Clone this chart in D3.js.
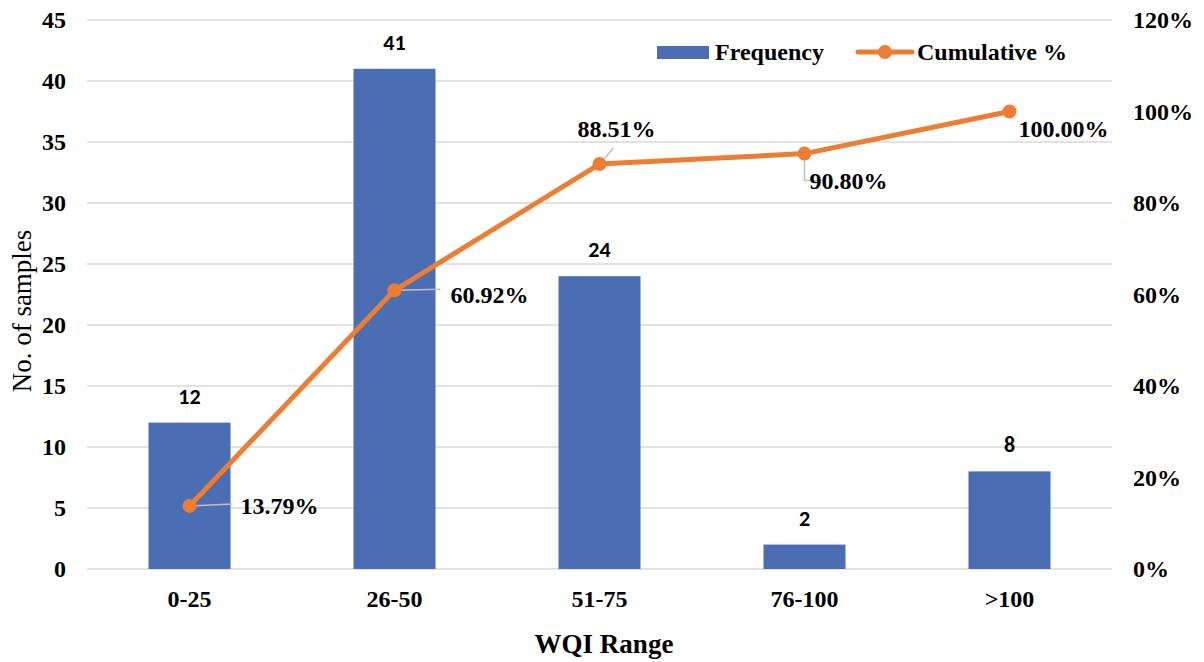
<!DOCTYPE html>
<html>
<head>
<meta charset="utf-8">
<script src="https://cdn.jsdelivr.net/npm/d3@7/dist/d3.min.js"></script>
<style>
  html, body { margin: 0; padding: 0; background: #fff; }
  svg { display: block; }
  .serif { font-family: "Liberation Serif", "Times New Roman", serif; }
  .sans { font-family: Carlito, Lato, "Liberation Sans", sans-serif; }
</style>
</head>
<body>
<svg id="chart" width="1204" height="662"></svg>
<script>
// WQI range distribution: sample counts and cumulative share
const categories = ["0-25", "26-50", "51-75", "76-100", ">100"];
const frequency = [12, 41, 24, 2, 8];
const cumulative = [13.79, 60.92, 88.51, 90.80, 100.00];
const leftTicks = [0, 5, 10, 15, 20, 25, 30, 35, 40, 45];
const rightTicks = [0, 20, 40, 60, 80, 100, 120];

const W = 1204, H = 662;
const margin = { left: 87, right: 92, top: 20, bottom: 93 };
const plotL = margin.left, plotR = W - margin.right;
const plotT = margin.top, plotB = H - margin.bottom;

const barColor = "#4A6DB3";
const lineColor = "#ED7D31";
const gridColor = "#D9D9D9";
const fs = 24;

const svg = d3.select("#chart");

const x = d3.scaleBand().domain(categories).range([plotL, plotR]).padding(0);
const yL = d3.scaleLinear().domain([0, 45]).range([plotB, plotT]);
const yR = d3.scaleLinear().domain([0, 120]).range([plotB, plotT]);

const barW = x.bandwidth() * 0.4;
const cx = d => x(d) + x.bandwidth() / 2;

function styleTicks(g) {
  g.select(".domain").remove();
  g.attr("font-family", null);
  g.selectAll("text").attr("class", "serif")
    .style("font-weight", "bold").style("font-size", fs + "px").attr("fill", "#000");
}

// horizontal gridlines
svg.append("g").selectAll("line").data(leftTicks).join("line")
  .attr("x1", plotL).attr("x2", plotR)
  .attr("y1", d => yL(d)).attr("y2", d => yL(d))
  .attr("stroke", gridColor).attr("stroke-width", 1.5);

// left axis labels
svg.append("g").attr("transform", `translate(${plotL},0)`)
  .call(d3.axisLeft(yL).tickValues(leftTicks).tickSize(0).tickPadding(21))
  .call(styleTicks);

// right axis labels
svg.append("g").attr("transform", `translate(${plotR},0)`)
  .call(d3.axisRight(yR).tickValues(rightTicks).tickSize(0).tickPadding(21)
    .tickFormat(d => d + "%"))
  .call(styleTicks);

// bottom axis labels
svg.append("g").attr("transform", `translate(0,${plotB})`)
  .call(d3.axisBottom(x).tickSize(0).tickPadding(21))
  .call(styleTicks);

// bars
svg.append("g").selectAll("rect").data(frequency).join("rect")
  .attr("x", (d, i) => cx(categories[i]) - barW / 2)
  .attr("y", d => yL(d))
  .attr("width", barW)
  .attr("height", d => plotB - yL(d))
  .attr("fill", barColor);

// bar value labels
svg.append("g").selectAll("text").data(frequency).join("text")
  .attr("class", "sans")
  .attr("x", (d, i) => cx(categories[i]))
  .attr("y", d => yL(d) - 19)
  .attr("text-anchor", "middle")
  .style("font-weight", "bold").style("font-size", "22px")
  .attr("fill", "#000")
  .text(d => d);

// leader lines for cumulative labels
const pts = cumulative.map((v, i) => [cx(categories[i]), yR(v)]);
const leaders = [
  [[0, 0], [43, -2]],
  [[0, 0], [46, -1]],
  [[0, 0], [14, -16]],
  [[0, 0], [0, 27], [17, 27]],
  null
];
svg.append("g").selectAll("path").data(leaders.map((l, i) => ({ l, i })).filter(o => o.l)).join("path")
  .attr("d", o => d3.line()(o.l.map(p => [pts[o.i][0] + p[0], pts[o.i][1] + p[1]])))
  .attr("fill", "none").attr("stroke", "#BFBFBF").attr("stroke-width", 1.5);

// cumulative line and markers
svg.append("path").datum(pts)
  .attr("d", d3.line())
  .attr("fill", "none").attr("stroke", lineColor).attr("stroke-width", 5)
  .attr("stroke-linejoin", "round").attr("stroke-linecap", "round");
svg.append("g").selectAll("circle").data(pts).join("circle")
  .attr("cx", d => d[0]).attr("cy", d => d[1]).attr("r", 7)
  .attr("fill", lineColor);

// cumulative labels (offset from their points)
const labelOffsets = [[51, 0], [56, 4], [-22, -35], [5, 27], [9, 17]];
svg.append("g").selectAll("text").data(cumulative).join("text")
  .attr("class", "serif")
  .attr("x", (d, i) => pts[i][0] + labelOffsets[i][0])
  .attr("y", (d, i) => pts[i][1] + labelOffsets[i][1])
  .attr("dy", "0.35em")
  .style("font-weight", "bold").style("font-size", fs + "px")
  .attr("fill", "#000")
  .text(d => d.toFixed(2) + "%");

// axis titles
svg.append("text")
  .attr("class", "serif")
  .attr("x", 604).attr("y", 653)
  .attr("text-anchor", "middle")
  .style("font-weight", "bold").style("font-size", "27px")
  .text("WQI Range");
svg.append("text")
  .attr("class", "serif")
  .attr("transform", `translate(31,311) rotate(-90)`)
  .attr("text-anchor", "middle")
  .style("font-size", "27px")
  .text("No. of samples");

// legend
const legend = svg.append("g");
legend.append("rect").attr("x", 657).attr("y", 46).attr("width", 52).attr("height", 13).attr("fill", barColor);
legend.append("text").attr("class", "serif").attr("x", 715).attr("y", 52).attr("dy", "0.35em")
  .style("font-weight", "bold").style("font-size", fs + "px")
  .text("Frequency");
legend.append("line").attr("x1", 858).attr("x2", 912).attr("y1", 52).attr("y2", 52)
  .attr("stroke", lineColor).attr("stroke-width", 5).attr("stroke-linecap", "round");
legend.append("circle").attr("cx", 885).attr("cy", 52).attr("r", 7).attr("fill", lineColor);
legend.append("text").attr("class", "serif").attr("x", 917).attr("y", 52).attr("dy", "0.35em")
  .style("font-weight", "bold").style("font-size", fs + "px")
  .text("Cumulative %");
</script>
</body>
</html>
